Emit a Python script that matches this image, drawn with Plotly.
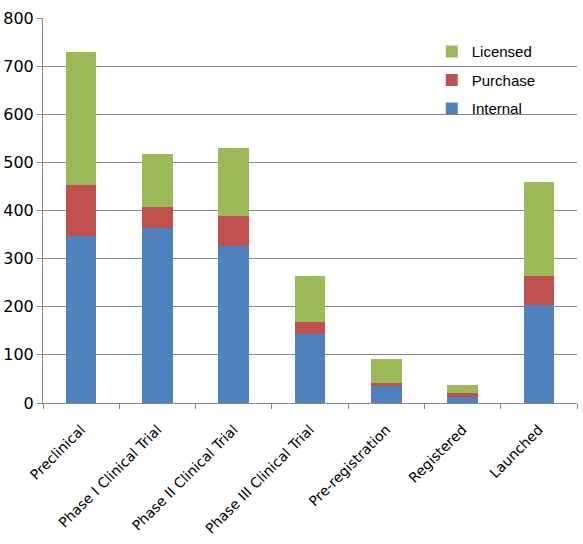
import plotly.graph_objects as go

categories = ["Preclinical", "Phase I Clinical Trial", "Phase II Clinical Trial",
              "Phase III Clinical Trial", "Pre-registration", "Registered", "Launched"]
internal = [348, 363, 327, 143, 35, 13, 204]
purchase = [105, 45, 62, 25, 7, 7, 60]
licensed = [277, 110, 140, 96, 49, 17, 196]
y_ticks = [0, 100, 200, 300, 400, 500, 600, 700, 800]

font = "DejaVu Sans"
fig = go.Figure()
for rank, (name, vals, col) in enumerate([("Internal", internal, "#4F81BD"),
                                          ("Purchase", purchase, "#C0504D"),
                                          ("Licensed", licensed, "#9BBB59")]):
    fig.add_trace(go.Bar(name=name, x=categories, y=vals, marker_color=col,
                         marker_line_width=0, legendgroup=name, legendrank=3 - rank))

fig.update_layout(
    width=583, height=544,
    barmode="stack", bargap=0.6,
    margin=dict(l=43, r=6, t=18, b=141),
    paper_bgcolor="white", plot_bgcolor="white",
    font=dict(family=font, size=13, color="#000000"),
    legend=dict(x=0.728, y=0.955, xanchor="left", yanchor="top",
                traceorder="grouped", tracegroupgap=6,
                bgcolor="rgba(0,0,0,0)",
                font=dict(size=15, family="Liberation Sans")),
    showlegend=True,
)
fig.update_xaxes(showline=True, linecolor="#868686", linewidth=1,
                 ticks="outside", tickson="boundaries", ticklen=5, tickcolor="#868686",
                 tickangle=-45, tickfont=dict(size=14, family=font), showgrid=False,
                 ticklabelstandoff=12, automargin=False)
fig.update_yaxes(range=[0, 800], tickvals=y_ticks, showline=True, linecolor="#868686",
                 linewidth=1, ticks="outside", ticklen=5, tickcolor="#868686",
                 showgrid=True, gridcolor="#868686", gridwidth=1,
                 tickfont=dict(size=16, family=font), zeroline=False, automargin=False)

fig.write_html("out.html")
